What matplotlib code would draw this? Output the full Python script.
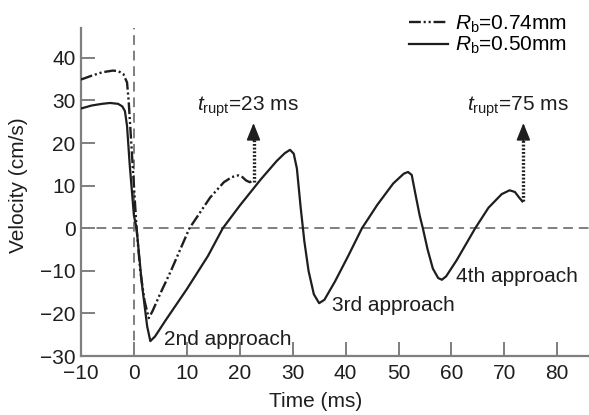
"""
Bubble approach velocity vs time for two bubble radii.
"""
import matplotlib
matplotlib.use("Agg")
import matplotlib.pyplot as plt
from matplotlib.lines import Line2D

plt.rcParams["font.family"] = ["Liberation Sans", "DejaVu Sans"]
plt.rcParams["mathtext.fontset"] = "custom"
plt.rcParams["mathtext.rm"] = "Liberation Sans"
plt.rcParams["mathtext.it"] = "Liberation Sans:italic"

# R_b = 0.50 mm (solid)
t_small = [-10, -8, -6, -4.5, -3, -2.2, -1.7, -1.3, -0.8, 0, 0.5, 1.5, 2.5, 3.1,
           4, 6, 10, 14, 16.8, 20, 24, 27, 28.5, 29.5, 30.2, 30.8, 31.5, 32.2,
           33, 34, 35, 36, 38, 40.5, 43.1, 46, 49, 51, 51.8, 52.5, 53.2, 54,
           54.6, 55.5, 56.5, 57.5, 58.2, 59, 61, 64.5, 67, 69.5, 71, 72, 72.8, 73.4]
v_small = [28.1, 28.8, 29.2, 29.4, 29.2, 28.6, 27.5, 24, 15, 3, 0, -13, -23, -26.5,
           -25.4, -21.6, -14.3, -6.5, 0, 5.3, 11.5, 15.8, 17.6, 18.4, 17.5, 14, 5, -3,
           -10, -15.5, -17.6, -16.8, -12.5, -6.5, 0, 5.5, 10.5, 12.8, 13.2, 12.5, 8, 3,
           0, -5, -9.5, -11.7, -12.1, -11.3, -7.5, 0, 4.8, 8, 8.9, 8.5, 7.2, 6.3]

# R_b = 0.74 mm (dash-dot-dot)
t_large = [-10, -8, -6, -4, -3, -2, -1.3, -1, -0.5, 0, 0.5, 1.2, 2, 2.8,
           3.5, 5, 7, 10.5, 14.4, 17, 18.5, 19.7, 20.5, 21.2, 21.9, 22.5]
v_large = [34.9, 35.8, 36.6, 37, 36.9, 36.2, 34.2, 30, 20, 10, 0, -10, -17, -21.1,
           -19.5, -15.3, -10, 0, 7.2, 10.8, 12, 12.4, 12, 11.2, 10.8, 11.2]

# rupture arrows: time, start velocity, label and label x
rupt_times = [22.6, 73.6]
rupt_start = [10.9, 6.5]
rupt_labels = ["23 ms", "75 ms"]
rupt_label_x = [11.9, 63.0]

approach_labels = ["2nd approach", "3rd approach", "4th approach"]
approach_x = [5.7, 37.4, 60.9]
approach_y = [-27.4, -19.4, -12.6]

x_ticks = [-10, 0, 10, 20, 30, 40, 50, 60, 70, 80]
y_ticks = [-30, -20, -10, 0, 10, 20, 30, 40]

gray = "#7f7f7f"
ink = "#1e1e1e"
fs = 15

fig = plt.figure(figsize=(5.89, 4.15), dpi=100)
ax = fig.add_axes([81 / 589, 1 - 356 / 415, 508 / 589, 328 / 415])

ax.axhline(0, color=gray, lw=1.4, dashes=(5, 3), zorder=1)
ax.axvline(0, color=gray, lw=1.4, dashes=(5, 3), zorder=1)

dd = (0, (5, 1.2, 0.9, 1.2, 0.9, 1.2))
ax.plot(t_large, v_large, color=ink, lw=1.7, linestyle=dd, zorder=3)
ax.plot(t_small, v_small, color=ink, lw=1.6, zorder=3)

for t, v0, lab, lx in zip(rupt_times, rupt_start, rupt_labels, rupt_label_x):
    ax.plot([t, t], [v0, 21.5], color=ink, lw=2.4, linestyle=(0, (0.55, 0.55)),
            solid_capstyle="butt", zorder=4)
    ax.annotate("", xy=(t, 24.7), xytext=(t, 20.5),
                arrowprops=dict(arrowstyle="-|>,head_length=0.75,head_width=0.3",
                                color=ink, lw=1.2, shrinkA=0, shrinkB=0,
                                mutation_scale=14), zorder=5)
    ax.text(lx, 27.6, r"$t_{\mathrm{rupt}}$=" + lab, fontsize=fs, color=ink,
            ha="left", va="baseline")

for lab, x, y in zip(approach_labels, approach_x, approach_y):
    ax.text(x, y, lab, fontsize=fs, color=ink, ha="left", va="baseline")

ax.set_xlim(-10, 86)
ax.set_ylim(-30, 47)
ax.set_xticks(x_ticks)
ax.set_yticks(y_ticks)
ax.set_xticklabels(["\u221210" if v < 0 else str(v) for v in x_ticks])
ax.set_yticklabels(["\u2212" + str(-v) if v < 0 else str(v) for v in y_ticks])
ax.tick_params(direction="in", length=10, width=1.4, color=gray,
               labelsize=fs, labelcolor=ink)
ax.tick_params(axis="y", pad=4)
ax.tick_params(axis="x", pad=6)
for side in ["top", "right"]:
    ax.spines[side].set_visible(False)
for side in ["left", "bottom"]:
    ax.spines[side].set_color(gray)
    ax.spines[side].set_linewidth(1.6)

ax.set_xlabel("Time (ms)", fontsize=fs, color=ink)
ax.xaxis.set_label_coords(0.4626, -0.11)
ax.set_ylabel("Velocity (cm/s)", fontsize=fs, color=ink)
ax.yaxis.set_label_coords(-0.105, 0.52)

handles = [Line2D([], [], color=ink, lw=1.7, linestyle=dd),
           Line2D([], [], color=ink, lw=1.6)]
labels = [r"$R_{\mathrm{b}}$=0.74mm", r"$R_{\mathrm{b}}$=0.50mm"]
fig.legend(handles, labels, loc="upper right", bbox_to_anchor=(0.985, 1.0),
           frameon=False, fontsize=fs, handlelength=1.9, handletextpad=0.3,
           labelspacing=0.0, borderpad=0.15)

fig.savefig("out.png", dpi=100)
